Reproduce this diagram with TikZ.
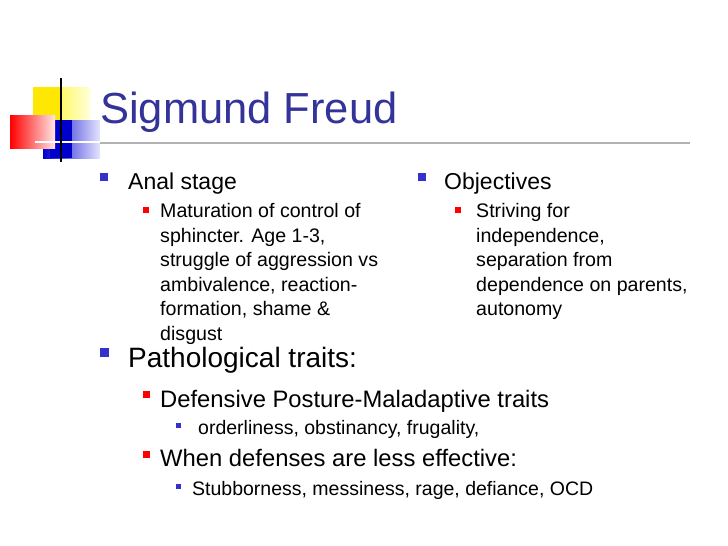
\documentclass[tikz,border=0pt]{standalone}
\usepackage{fontspec}
\setmainfont{Liberation Sans}
\definecolor{ttl}{HTML}{333399}
\definecolor{bl}{HTML}{3333CC}
\definecolor{rd}{HTML}{FF0000}
\begin{document}
\begin{tikzpicture}[x=1pt,y=-1pt,
  txt/.style={anchor=base west,inner sep=0pt,font=\fontsize{#1}{#1}\selectfont},
  bul/.style={fill=#1}]
\useasboundingbox (0,0) rectangle (728,546);
% logo
\shade[left color=yellow!90!orange, right color=yellow!15] (33,87) rectangle (90,120);
\fill[yellow!90!orange] (33,87) rectangle (62,120);
\shade[left color=blue!80!black, right color=blue!10] (43,120) rectangle (100,158);
\fill[blue!80!black] (50,120) rectangle (72,158);
\shade[left color=red, right color=red!10] (10,115) rectangle (55,148);
\draw[white,line width=2pt] (35,142) -- (100,142);
\draw[gray!60,line width=1.5pt] (100,143) -- (690,143);
\draw[black,line width=1.5pt] (61,78) -- (61,162);
\node[txt=43.5,text=ttl] (title) at (100,123) {Sigmund Freud};
% left column
\fill[bl] (100,173) rectangle (108,181);
\node[txt=23] (anal) at (128,189) {Anal stage};
\fill[rd] (143,207) rectangle (149,213);
\node[inner sep=0pt,align=left,anchor=north west,font=\fontsize{19.6}{24.6}\selectfont] (analtxt) at (160,203) {Maturation of control of\\sphincter. Age 1-3,\\struggle of aggression vs\\ambivalence, reaction-\\formation, shame \&\\disgust};
% right column
\fill[bl] (418,173) rectangle (426,181);
\node[txt=23] (obj) at (444,189) {Objectives};
\fill[rd] (455,207) rectangle (461,213);
\node[inner sep=0pt,align=left,anchor=north west,font=\fontsize{19.6}{24.6}\selectfont] (objtxt) at (476,203) {Striving for\\independence,\\separation from\\dependence on parents,\\autonomy};
% pathological
\fill[bl] (100,348) rectangle (109,357);
\node[txt=28] (path) at (128,367) {Pathological traits:};
\fill[rd] (143,391) rectangle (150,398);
\node[txt=23.8] (def) at (160,407) {Defensive Posture-Maladaptive traits};
\fill[bl] (176,423) rectangle (181,428);
\node[txt=19.5] (ord) at (198,434) {orderliness, obstinancy, frugality,};
\fill[rd] (143,451) rectangle (150,458);
\node[txt=23.8] (when) at (160,466) {When defenses are less effective:};
\fill[bl] (176,484) rectangle (181,489);
\node[txt=19.5] (stub) at (192,495) {Stubborness, messiness, rage, defiance, OCD};
\end{tikzpicture}
\end{document}
